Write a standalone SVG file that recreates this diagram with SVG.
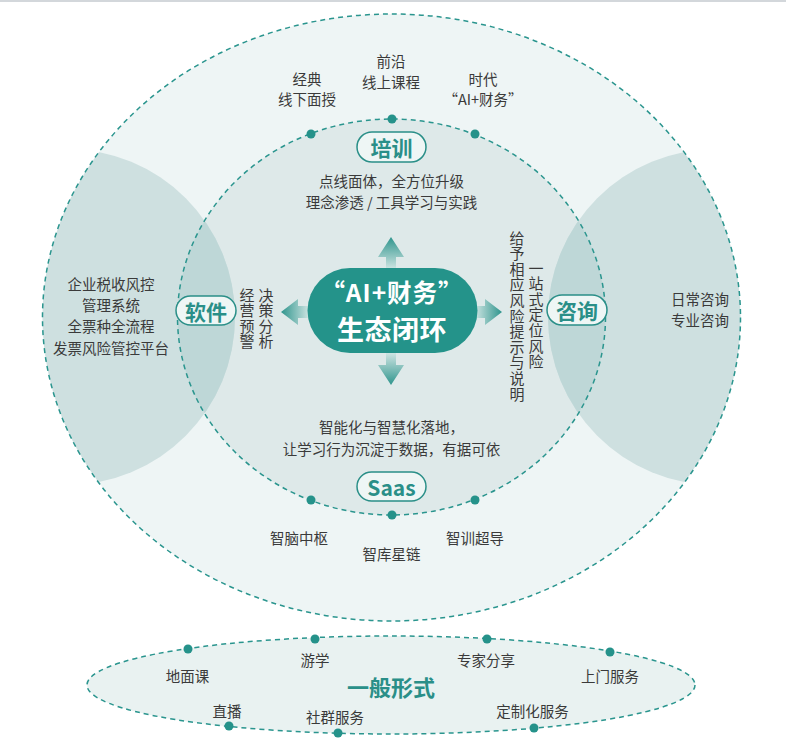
<svg xmlns="http://www.w3.org/2000/svg" width="786" height="753" viewBox="0 0 786 753">
<style>
text{font-family:"Noto Sans CJK SC","Noto Sans",sans-serif;}
.lbl{font-size:14.5px;fill:#3a3a3a;text-anchor:middle;dominant-baseline:central;}
.vt{font-size:15px;fill:#3a3a3a;writing-mode:vertical-rl;text-anchor:start;letter-spacing:0.6px;}
.pill{fill:#eef6f5;stroke:#2a8f88;stroke-width:1.5;}
.ptxt{font-size:21px;font-weight:700;fill:#2a8f88;text-anchor:middle;dominant-baseline:central;}
.dash{fill:none;stroke:#2a958e;stroke-width:1.5;stroke-dasharray:5 4;}
.dot{fill:#25928a;}
</style>
<defs>
<clipPath id="cOuter"><ellipse cx="391.5" cy="317.5" rx="349" ry="303.5"/></clipPath>
<clipPath id="cInner"><ellipse cx="391.5" cy="317" rx="214" ry="198"/></clipPath>
<linearGradient id="gUp" x1="0" y1="0" x2="0" y2="1"><stop offset="0" stop-color="#2f958d"/><stop offset="1" stop-color="#d3e7e5"/></linearGradient>
<linearGradient id="gDown" x1="0" y1="1" x2="0" y2="0"><stop offset="0" stop-color="#2f958d"/><stop offset="1" stop-color="#d3e7e5"/></linearGradient>
<linearGradient id="gLeft" x1="0" y1="0" x2="1" y2="0"><stop offset="0" stop-color="#2f958d"/><stop offset="1" stop-color="#d3e7e5"/></linearGradient>
<linearGradient id="gRight" x1="1" y1="0" x2="0" y2="0"><stop offset="0" stop-color="#2f958d"/><stop offset="1" stop-color="#d3e7e5"/></linearGradient>
</defs>
<rect x="0" y="0" width="786" height="753" fill="#ffffff"/>
<rect x="0" y="0" width="786" height="2" fill="#d3d7db"/>

<g id="outer-ring">
<ellipse cx="391.5" cy="317.5" rx="349" ry="303.5" fill="#eef5f5"/>
</g>
<g id="inner-ring">
<ellipse cx="391.5" cy="317" rx="214" ry="198" fill="#dee9e9"/>
</g>
<g id="side-areas">
<g clip-path="url(#cOuter)">
<circle cx="67" cy="317" r="168" fill="#cee0e0"/>
<circle cx="716" cy="317" r="168" fill="#cee0e0"/>
</g>
<g clip-path="url(#cInner)">
<circle cx="67" cy="317" r="168" fill="#bed7d7"/>
<circle cx="716" cy="317" r="168" fill="#bed7d7"/>
</g>
</g>
<ellipse cx="391.5" cy="317.5" rx="349" ry="303.5" class="dash" stroke-dasharray="4 3.5"/>
<ellipse cx="391.5" cy="317" rx="214" ry="198" class="dash"/>

<g id="connectors">
<polygon points="391,237 378,257 386,257 386,270 396,270 396,257 404,257" fill="url(#gUp)"/>
<polygon points="391,385 378,365 386,365 386,352 396,352 396,365 404,365" fill="url(#gDown)"/>
<polygon points="281,312 298,299 298,306 310,306 310,318 298,318 298,325" fill="url(#gLeft)"/>
<polygon points="502,312 485,299 485,306 474,306 474,318 485,318 485,325" fill="url(#gRight)"/>
</g>

<g id="center">
<rect x="307.5" y="268" width="170" height="85" rx="42.5" fill="#24938a"/>
<text x="392" y="291" font-size="24.5" font-weight="700" fill="#ffffff" text-anchor="middle" dominant-baseline="central" letter-spacing="1">“AI+财务”</text>
<text x="392" y="328.5" font-size="27" font-weight="700" fill="#ffffff" text-anchor="middle" dominant-baseline="central" letter-spacing="0.5">生态闭环</text>
</g>

<g id="training">
<circle class="dot" cx="311" cy="134" r="4.5"/>
<circle class="dot" cx="392" cy="119" r="4.5"/>
<circle class="dot" cx="475" cy="134" r="4.5"/>
<rect class="pill" x="357" y="132" width="69" height="30" rx="15"/>
<text class="ptxt" x="391.5" y="147">培训</text>
<text class="lbl" x="307" y="78.5">经典</text>
<text class="lbl" x="307" y="98">线下面授</text>
<text class="lbl" x="391" y="60">前沿</text>
<text class="lbl" x="391" y="81">线上课程</text>
<text class="lbl" x="483" y="78">时代</text>
<text class="lbl" x="483" y="98">“AI+财务”</text>
<text class="lbl" x="391.5" y="180" font-size="15">点线面体，全方位升级</text>
<text class="lbl" x="391.5" y="201" font-size="15">理念渗透 / 工具学习与实践</text>
</g>

<g id="software">
<rect class="pill" x="176" y="296" width="60" height="29" rx="14.5"/>
<text class="ptxt" x="206" y="310.5">软件</text>
<text class="lbl" x="111" y="283">企业税收风控</text>
<text class="lbl" x="111" y="304">管理系统</text>
<text class="lbl" x="111" y="325">全票种全流程</text>
<text class="lbl" x="111" y="347">发票风险管控平台</text>
<text class="vt" x="247" y="287.5">经营预警</text>
<text class="vt" x="266" y="287.5">决策分析</text>
</g>

<g id="consulting">
<rect class="pill" x="547" y="295" width="60" height="30" rx="15"/>
<text class="ptxt" x="577" y="310">咨询</text>
<text class="lbl" x="700" y="298">日常咨询</text>
<text class="lbl" x="700" y="319">专业咨询</text>
<text class="vt" x="517" y="230.5" letter-spacing="0.5">给予相应风险提示与说明</text>
<text class="vt" x="536" y="260.5">一站式定位风险</text>
</g>

<g id="saas">
<circle class="dot" cx="311" cy="500" r="4.5"/>
<circle class="dot" cx="392" cy="515" r="4.5"/>
<circle class="dot" cx="475" cy="500" r="4.5"/>
<rect class="pill" x="357" y="472" width="69" height="29" rx="14.5"/>
<text class="ptxt" x="391.5" y="486.5">Saas</text>
<text class="lbl" x="391.5" y="426.5" font-size="15">智能化与智慧化落地，</text>
<text class="lbl" x="391.5" y="448" font-size="15">让学习行为沉淀于数据，有据可依</text>
<text class="lbl" x="299" y="537.5">智脑中枢</text>
<text class="lbl" x="391.5" y="553">智库星链</text>
<text class="lbl" x="475" y="537.5">智训超导</text>
</g>

<g id="general-forms">
<ellipse cx="391" cy="685" rx="304" ry="49" fill="#e9f2f1" stroke="#2a958e" stroke-width="1.5" stroke-dasharray="5 4"/>
<circle class="dot" cx="188" cy="649" r="4.5"/>
<circle class="dot" cx="315" cy="639" r="4.5"/>
<circle class="dot" cx="487" cy="639" r="4.5"/>
<circle class="dot" cx="610" cy="652" r="4.5"/>
<circle class="dot" cx="229" cy="726" r="4.5"/>
<circle class="dot" cx="338" cy="733" r="4.5"/>
<circle class="dot" cx="534" cy="728" r="4.5"/>
<text x="391" y="686" font-size="22" font-weight="700" fill="#2a8f88" text-anchor="middle" dominant-baseline="central">一般形式</text>
<text class="lbl" x="187.5" y="675">地面课</text>
<text class="lbl" x="315" y="659">游学</text>
<text class="lbl" x="486" y="659">专家分享</text>
<text class="lbl" x="610" y="675">上门服务</text>
<text class="lbl" x="227" y="710">直播</text>
<text class="lbl" x="335" y="716.5">社群服务</text>
<text class="lbl" x="532.5" y="710">定制化服务</text>
</g>
</svg>
